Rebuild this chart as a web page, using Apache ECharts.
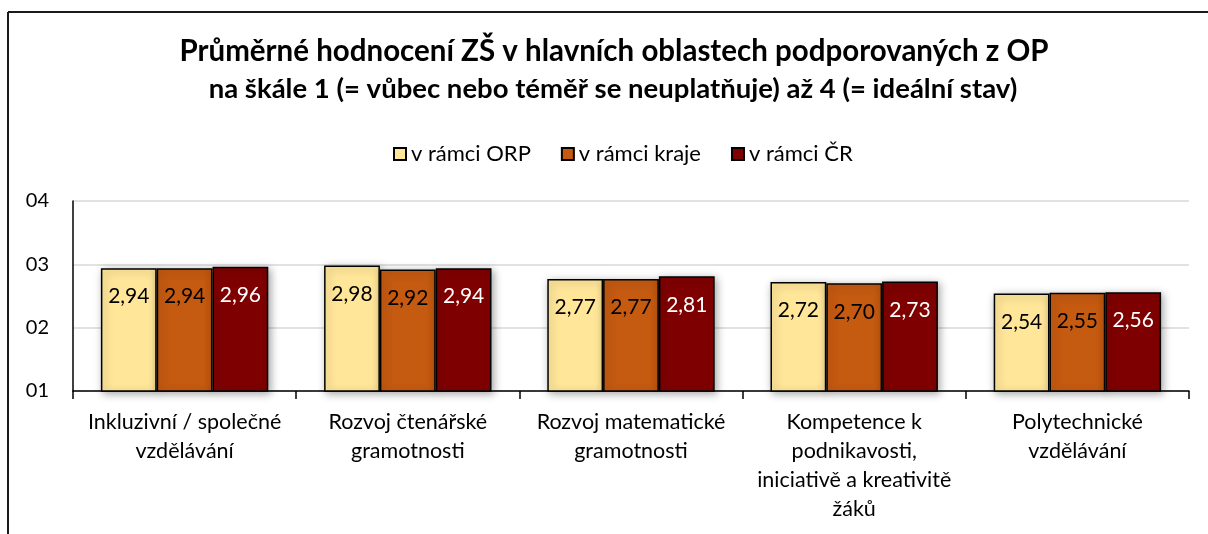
<!DOCTYPE html>
<html>
<head>
<meta charset="utf-8">
<script src="https://cdn.jsdelivr.net/npm/echarts@6/dist/echarts.min.js"></script>
<style>
html,body{margin:0;padding:0;background:#fff;}
#chart{width:1208px;height:534px;}
</style>
</head>
<body>
<div id="chart"></div>
<script>
const titleLines = [
  'Průměrné hodnocení ZŠ v hlavních oblastech podporovaných z OP',
  'na škále 1 (= vůbec nebo téměř se neuplatňuje) až 4 (= ideální stav)'
];
const categories = [
  'Inkluzivní / společné\nvzdělávání',
  'Rozvoj čtenářské\ngramotnosti',
  'Rozvoj matematické\ngramotnosti',
  'Kompetence k\npodnikavosti,\niniciativě a kreativitě\nžáků',
  'Polytechnické\nvzdělávání'
];
const seriesNames = ['v rámci ORP', 'v rámci kraje', 'v rámci ČR'];
const orp   = [2.94, 2.98, 2.77, 2.72, 2.54];
const kraje = [2.94, 2.92, 2.77, 2.70, 2.55];
const cr    = [2.96, 2.94, 2.81, 2.73, 2.56];
const yTicks = [1, 2, 3, 4];

const FONT = 'Lato, "Open Sans", sans-serif';
const colors = ['#FFE699', '#C55A11', '#7F0000'];
const labelColors = ['#000', '#000', '#fff'];
const seriesData = [orp, kraje, cr];

const chart = echarts.init(document.getElementById('chart'));
chart.setOption({
  backgroundColor: '#fff',
  animation: false,
  textStyle: { fontFamily: FONT },
  graphic: [
    { type: 'line', shape: { x1: 8, y1: 12, x2: 1208, y2: 12 }, style: { stroke: '#1a1a1a', lineWidth: 2 } },
    { type: 'line', shape: { x1: 8, y1: 12, x2: 8, y2: 534 }, style: { stroke: '#1a1a1a', lineWidth: 2 } },
    { type: 'text', x: 614, y: 51, style: { text: titleLines[0], fill: '#000', font: 'bold 29.5px ' + FONT, textAlign: 'center', textVerticalAlign: 'middle' } },
    { type: 'text', x: 613, y: 89, style: { text: titleLines[1], fill: '#000', font: 'bold 27.5px ' + FONT, textAlign: 'center', textVerticalAlign: 'middle' } }
  ],
  legend: {
    data: seriesNames,
    left: 388,
    top: 138,
    icon: 'rect',
    itemWidth: 12,
    itemHeight: 12,
    itemGap: 30,
    textStyle: { fontFamily: FONT, fontSize: 22, color: '#000' }
  },
  grid: { left: 73, right: 19, top: 201, bottom: 143, containLabel: false },
  xAxis: {
    type: 'category',
    data: categories,
    axisLine: { lineStyle: { color: '#000', width: 1.5 } },
    axisTick: { show: true, length: 8, lineStyle: { color: '#000', width: 1.5 } },
    axisLabel: { interval: 0, fontFamily: FONT, fontSize: 21.5, color: '#000', lineHeight: 29, margin: 17, align: 'center' }
  },
  yAxis: {
    type: 'value',
    min: 1,
    max: 4,
    interval: 1,
    axisLine: { show: true, lineStyle: { color: '#000', width: 1.5 } },
    axisTick: { show: false },
    splitLine: { lineStyle: { color: '#d9d9d9', width: 1.5 } },
    axisLabel: { fontFamily: FONT, fontSize: 20, color: '#000', margin: 24, formatter: v => yTicks.includes(v) ? '0' + v : '' }
  },
  series: seriesNames.map((name, i) => ({
    name: name,
    type: 'bar',
    data: seriesData[i],
    barGap: '0%',
    barCategoryGap: '25%',
    itemStyle: {
      color: colors[i],
      borderColor: '#000',
      borderWidth: 1.5,
      shadowBlur: 8,
      shadowColor: 'rgba(0,0,0,0.35)',
      shadowOffsetX: 2,
      shadowOffsetY: 2
    },
    label: {
      show: true,
      position: 'insideTop',
      distance: 18,
      fontFamily: FONT,
      fontSize: 21,
      lineHeight: 21,
      color: labelColors[i],
      formatter: p => p.value.toFixed(2).replace('.', ',')
    }
  }))
});
</script>
</body>
</html>
